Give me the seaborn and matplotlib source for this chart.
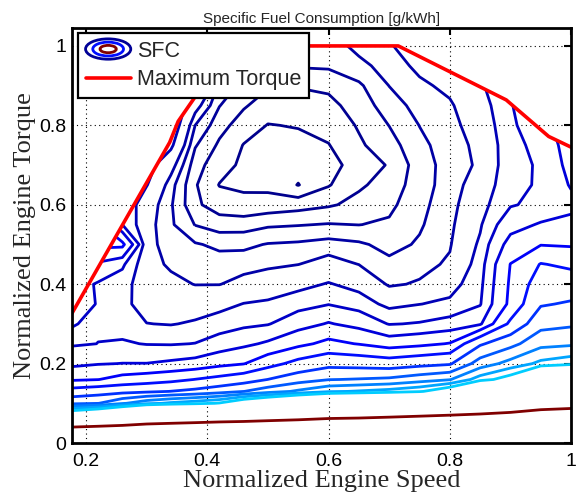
import matplotlib
matplotlib.use("Agg")
import matplotlib.pyplot as plt
import numpy as np
import seaborn as sns
from matplotlib.legend_handler import HandlerBase
from matplotlib.lines import Line2D
from matplotlib.patches import Ellipse, Polygon

#================================================================================================
# Data
#================================================================================================

# grid of the engine map (normalized speed / normalized torque)
speed = [0.177, 0.22, 0.26, 0.30, 0.34, 0.38, 0.42, 0.46, 0.50, 0.55,
         0.60, 0.65, 0.70, 0.75, 0.80, 0.85, 0.90, 0.95, 1.00]
torque = [0.00, 0.04, 0.07, 0.10, 0.13, 0.16, 0.20, 0.25, 0.30, 0.35, 0.40, 0.45,
          0.50, 0.55, 0.60, 0.65, 0.70, 0.75, 0.80, 0.85, 0.90, 0.95, 1.00, 1.05]

# SFC [g/kWh], one list per speed column, bottom (torque 0) to top
sfc_by_speed = [
    [1500, 1002, 520, 363, 321, 282, 261, 248.5, 250.3, 256, 257, 275, 285, 285, 285, 285, 285, 285, 285, 285, 285, 285, 285, 285],
    [1500, 1035, 560, 369, 327, 284.5, 264, 250.1, 249, 249.3, 248.5, 262, 290, 290, 290, 290, 290, 290, 290, 290, 290, 290, 290, 290],
    [1500, 1065, 620, 396, 331, 293, 265.3, 251.4, 245, 242.5, 244, 252, 290, 250, 248, 248, 248, 248, 248, 248, 248, 248, 248, 248],
    [1500, 1092, 742, 420, 335, 297.5, 265.3, 249.4, 240.2, 236, 234, 232.5, 232, 232.5, 234, 240.5, 244, 248, 250, 250, 250, 250, 250, 250],
    [1500, 1108, 772, 436, 340.5, 302.6, 268, 249, 239.5, 235.7, 231.8, 229, 227.5, 225.8, 225.6, 227, 233, 242, 248, 250, 250, 250, 250, 250],
    [1500, 1123, 796, 448, 347, 310.5, 271, 250.3, 241.2, 235.2, 229.8, 227.7, 225.5, 219.8, 216, 215.5, 217, 220.5, 225, 233, 245, 250, 250, 250],
    [1500, 1136, 824, 463, 357, 318, 278.5, 255.6, 244.4, 237, 229.8, 227.2, 223.9, 217.5, 212.5, 209.8, 212, 214.1, 216.9, 220.2, 223.6, 230, 245, 250],
    [1500, 1143, 842.5, 505, 369.5, 326.7, 284, 261.3, 247.2, 240.3, 232.3, 227.6, 223.9, 217.6, 211.3, 209.2, 209, 209.8, 212.5, 215.6, 218.5, 221, 223, 224],
    [1500, 1155, 868, 537, 386, 340.3, 300, 267.5, 249.2, 241.5, 234.3, 228.7, 225.3, 219.2, 211.9, 208.8, 208, 208.8, 209.8, 212.5, 215.5, 220.2, 222.5, 223],
    [1500, 1167, 896, 585, 405, 356.7, 318.6, 279.3, 258.3, 245.5, 237.1, 229.9, 225.8, 219.7, 213, 204.8, 207, 208.5, 210.3, 212.8, 215.3, 220.5, 222.5, 223],
    [1500, 1183, 930, 630, 425.4, 369, 330.8, 290.8, 266.3, 249.5, 240.7, 232.7, 226.9, 220.3, 214.4, 209.6, 207.5, 209.8, 211.7, 213.5, 216.1, 220.8, 222.5, 223],
    [1500, 1188, 942, 653, 432.7, 371.7, 328.3, 283.9, 259.4, 245, 236.7, 229.9, 225.8, 219.9, 216.4, 214.3, 213, 214.2, 215.5, 217.3, 219.1, 223.6, 226.5, 227],
    [1500, 1197, 962, 678, 441, 375.3, 324, 274.6, 249.3, 237.3, 229.1, 226.2, 223.4, 220.8, 218.7, 216.8, 215.3, 217.9, 220.1, 222.5, 225.1, 227, 229, 230],
    [1500, 1206, 982, 712, 455, 386.7, 330.6, 279.4, 250.9, 239.8, 230.7, 227.9, 225.6, 224.4, 223.7, 222.9, 222.6, 223.6, 225.1, 226.9, 228.8, 231.5, 236, 240],
    [1500, 1214, 1001, 747, 494, 398, 336.5, 286.2, 254.5, 242, 236, 231, 229.4, 228.4, 227.6, 227.1, 227.1, 227.6, 228.3, 229.2, 231.5, 235, 240, 243],
    [1500, 1226, 1021, 815.5, 610, 445, 383.6, 336, 262.5, 249, 246.5, 244, 241.5, 238.9, 236.3, 233.6, 231, 231.5, 233, 235, 238, 242, 246, 250],
    [1500, 1240, 1045, 855.6, 667, 479, 410.7, 360.3, 315.8, 290, 288, 285.5, 271.7, 258.6, 249, 246.5, 246, 246, 247.5, 249, 252, 256, 260, 262],
    [1500, 1259, 1078, 910, 751, 592, 437.5, 391, 360, 337.4, 324.3, 311.3, 284, 266.7, 253, 251.5, 251.5, 254, 259, 262, 262, 262, 262, 262],
    [1500, 1267, 1093, 929, 776, 623, 450, 395, 365.5, 343.1, 324.5, 305, 282.5, 270, 260.5, 266.4, 270.5, 273, 275, 275, 275, 275, 275, 275],
]

# contour levels [g/kWh]
sfc_levels = [205, 210, 215, 220, 225, 230, 240, 250, 265, 285, 310, 340, 370, 400, 430, 460, 1000]

# full load curve
max_torque_speed = [0.177, 0.338, 0.352, 0.381, 0.43, 0.715, 0.893, 0.963, 1.0]
max_torque = [0.327, 0.757, 0.81, 0.874, 1.0, 1.0, 0.864, 0.772, 0.745]

title = 'Specific Fuel Consumption [g/kWh]'
x_label = 'Normalized Engine Speed'
y_label = 'Normalized Engine Torque'
x_ticks = [0.2, 0.4, 0.6, 0.8, 1.0]
x_tick_labels = ['0.2', '0.4', '0.6', '0.8', '1']
y_ticks = [0, 0.2, 0.4, 0.6, 0.8, 1.0]
y_tick_labels = ['0', '0.2', '0.4', '0.6', '0.8', '1']


#================================================================================================
# Legend icon for the contour set (concentric rings)
#================================================================================================

class ContourIcon(HandlerBase):
    def create_artists(self, legend, orig_handle, xdescent, ydescent, width, height, fontsize, trans):
        cx, cy = 0.5 * width - xdescent, 0.5 * height - ydescent
        rings = []
        for scale, color in [(1.0, plt.cm.jet(0.02)), (0.68, plt.cm.jet(0.14)), (0.36, plt.cm.jet(1.0))]:
            rings.append(Ellipse((cx, cy), width * scale, height * 1.35 * scale, fill=False,
                                 edgecolor=color, linewidth=2.0, transform=trans))
        return rings


#================================================================================================
# Plot
#================================================================================================

sns.set_style('white')
plt.rcParams['font.family'] = ['Liberation Sans', 'DejaVu Sans']

fig = plt.figure(figsize=(5.79, 4.94), dpi=100)
ax = fig.add_axes([0.1244, 0.1032, 0.862, 0.840])

sfc = np.array(sfc_by_speed).T
cs = ax.contour(speed, torque, sfc, levels=sfc_levels, cmap='jet', vmin=200, vmax=1000, linewidths=2.0)

# only show the map below the full load curve
outline = list(zip(max_torque_speed, max_torque)) + [(1.0, 0.0), (max_torque_speed[0], 0.0)]
cs.set_clip_path(Polygon(outline, closed=True, transform=ax.transData))

sns.lineplot(x=max_torque_speed, y=max_torque, ax=ax, color='red', linewidth=2.6,
             sort=False, estimator=None)

ax.set_xlim(0.177, 1.0)
ax.set_ylim(0, 1.045)
ax.set_xticks(x_ticks, x_tick_labels)
ax.set_yticks(y_ticks, y_tick_labels)
ax.tick_params(direction='in', length=5, width=1.5, top=True, right=True, labelsize=14, colors='black')
ax.tick_params(axis='x', pad=7)
ax.tick_params(axis='y', pad=4)
ax.set_axisbelow(True)
ax.grid(True, color='black', linestyle=(0, (1, 3)), linewidth=0.8)
for spine in ax.spines.values():
    spine.set_linewidth(2)
    spine.set_color('black')

ax.set_title(title, fontsize=11, pad=4)
ax.set_xlabel(x_label, fontsize=19, family=['Liberation Serif', 'DejaVu Serif'], labelpad=0)
ax.set_ylabel(y_label, fontsize=19, family=['Liberation Serif', 'DejaVu Serif'], labelpad=2)

sfc_proxy = Line2D([], [])
torque_proxy = Line2D([], [], color='red', linewidth=2.6)
leg = ax.legend([sfc_proxy, torque_proxy], ['SFC', 'Maximum Torque'],
                handler_map={sfc_proxy: ContourIcon()},
                loc='upper left', bbox_to_anchor=(0.012, 0.988), borderaxespad=0,
                fontsize=15.5, frameon=True, fancybox=False, framealpha=1, edgecolor='black',
                borderpad=0.35, labelspacing=0.35, handlelength=2.1, handletextpad=0.3)
leg.get_frame().set_linewidth(1.6)

fig.savefig('out.png', dpi=100)
plt.close(fig)
